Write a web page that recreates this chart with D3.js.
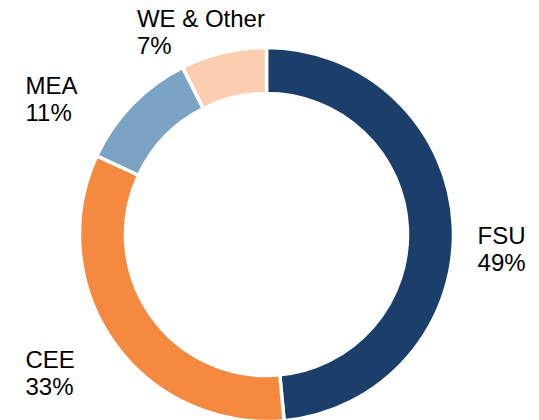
<!DOCTYPE html>
<html>
<head>
<meta charset="utf-8">
<script src="https://cdn.jsdelivr.net/npm/d3@7"></script>
<style>
  body { margin: 0; background: #fff; }
  #chart-area text { font-family: "Liberation Sans", Arial, sans-serif; fill: #000; }
</style>
</head>
<body>
<div id="chart-area"></div>
<script>
const regions = ["FSU", "CEE", "MEA", "WE & Other"];
const shares = [48.5, 33.4, 10.7, 7.4];
const shareLabels = ["49%", "33%", "11%", "7%"];
const colors = ["#1b3f6a", "#f5893f", "#7ba3c3", "#fbcdb1"];

const svgWidth = 539;
const svgHeight = 420;
const center = { x: 266.5, y: 234.5 };

// hand nudges so labels sit where the original had them
const labelNudge = {
  "FSU": [-28.7, 20.8],
  "CEE": [-45.1, -4.9],
  "MEA": [-68.6, 26.8],
  "WE & Other": [-74.3, 25.8]
};

const data = regions.map((r, i) => ({ region: r, share: shares[i], label: shareLabels[i] }));

const svg = d3.select("#chart-area")
              .append("svg")
              .attr("width", svgWidth)
              .attr("height", svgHeight);

const g = svg.append("g")
             .attr("transform", `translate(${center.x}, ${center.y})`);

const color = d3.scaleOrdinal()
                .domain(regions)
                .range(colors);

const pie = d3.pie()
              .sort(null)
              .value(d => d.share);

const arc = d3.arc()
              .innerRadius(141)
              .outerRadius(187);

const labelArc = d3.arc()
                   .innerRadius(240)
                   .outerRadius(240);

const arcs = pie(data);

g.selectAll("path")
 .data(arcs)
 .enter()
 .append("path")
   .attr("d", arc)
   .attr("fill", d => color(d.data.region))
   .attr("stroke", "#fff")
   .attr("stroke-width", 3.5);

const labels = g.selectAll(".slice-label")
 .data(arcs)
 .enter()
 .append("text")
   .attr("class", "slice-label")
   .attr("font-size", 24)
   .attr("transform", d => {
     const [x, y] = labelArc.centroid(d);
     const n = labelNudge[d.data.region];
     return `translate(${x + n[0]}, ${y + n[1]})`;
   });

labels.append("tspan")
      .attr("x", 0)
      .attr("y", 0)
      .text(d => d.data.region);

labels.append("tspan")
      .attr("x", 0)
      .attr("dy", 27)
      .text(d => d.data.label);
</script>
</body>
</html>
